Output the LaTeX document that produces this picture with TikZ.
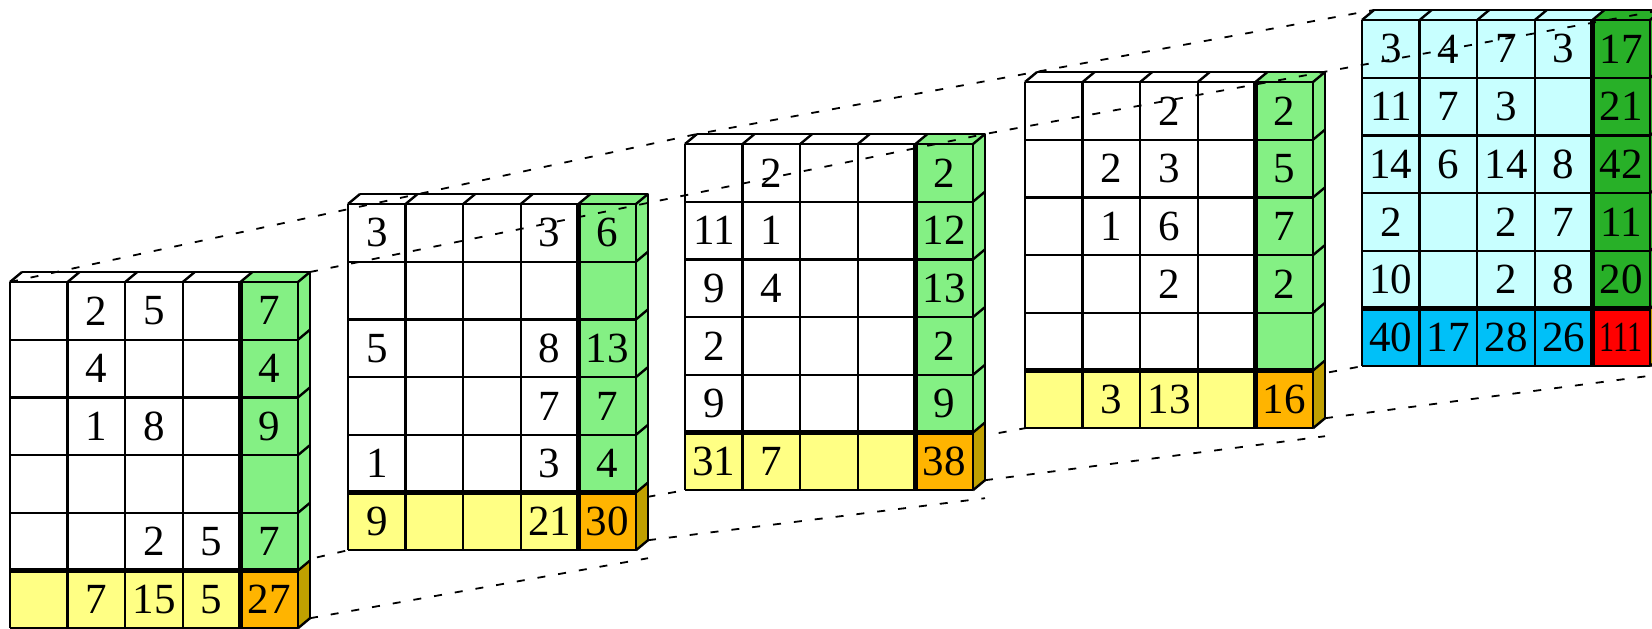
\documentclass[tikz,border=0pt]{standalone}
\usepackage{fontspec}
\setmainfont{Liberation Serif}
\usetikzlibrary{calc, backgrounds}
\definecolor{leafgreen}{HTML}{84F084}
\definecolor{rowyellow}{HTML}{FFFF84}
\definecolor{totorange}{HTML}{FFB400}
\definecolor{sidegold}{HTML}{C0A000}
\definecolor{sumcyan}{HTML}{C8FFFF}
\definecolor{sumblue}{HTML}{00C0F8}
\definecolor{sumgreen}{HTML}{28B028}
\definecolor{sumred}{HTML}{FF0000}

\newcommand{\cw}{57.6}
\newcommand{\ch}{57.7}

% one slab: #1 name, #2 x, #3 y, #4 cells, #5 total column, #6 total row, #7 grand total, #8 rows of values
\newcommand{\slab}[8]{%
  \begin{scope}[shift={(#2,#3)}]
    \coordinate (#1-ftl) at (0,0);
    \coordinate (#1-btl) at (12,-10);
    \coordinate (#1-btr) at ({5*\cw+12},-10);
    \coordinate (#1-fbl) at (0,{6*\ch});
    \coordinate (#1-bbr) at ({5*\cw+12},{6*\ch-10});
    \coordinate (#1-low) at ({5*\cw+12},{6*\ch+8});
    % faces
    \fill[#4] (0,0) -- (12,-10) -- ({4*\cw+12},-10) -- ({4*\cw},0) -- cycle;
    \fill[#5] ({4*\cw},0) -- ({4*\cw+12},-10) -- ({5*\cw+12},-10) -- ({5*\cw},0) -- cycle;
    \fill[#5] ({5*\cw},0) -- ({5*\cw+12},-10) -- ({5*\cw+12},{5*\ch-10}) -- ({5*\cw},{5*\ch}) -- cycle;
    \fill[sidegold] ({5*\cw},{5*\ch}) -- ({5*\cw+12},{5*\ch-10}) -- ({5*\cw+12},{6*\ch-10}) -- ({5*\cw},{6*\ch}) -- cycle;
    \fill[#4] (0,0) rectangle ({4*\cw},{5*\ch});
    \fill[#5] ({4*\cw},0) rectangle ({5*\cw},{5*\ch});
    \fill[#6] (0,{5*\ch}) rectangle ({4*\cw},{6*\ch});
    \fill[#7] ({4*\cw},{5*\ch}) rectangle ({5*\cw},{6*\ch});
    % values
    \foreach \row [count=\ri] in {#8}
      \foreach \v [count=\ci] in \row
        \node[val] (#1-\ri-\ci) at ({(\ci-0.5)*\cw},{(\ri-0.5)*\ch}) {\v};
    % grid
    \foreach \i in {0,1,2,3,5}
      \draw[grid] ({\i*\cw},0) -- ({\i*\cw},{6*\ch});
    \foreach \j in {0,1,2,3,4,6}
      \draw[grid] (0,{\j*\ch}) -- ({5*\cw},{\j*\ch});
    \draw[bold] ({4*\cw},0) -- ({4*\cw},{6*\ch});
    \draw[bold] (0,{5*\ch}) -- ({5*\cw},{5*\ch});
    % top and side faces
    \foreach \i in {0,...,5}
      \draw[grid] ({\i*\cw},0) -- ++(12,-10);
    \foreach \j in {1,...,6}
      \draw[grid] ({5*\cw},{\j*\ch}) -- ++(12,-10);
    \draw[grid] (12,-10) -- ({5*\cw+12},-10) -- ({5*\cw+12},{6*\ch-10});
  \end{scope}}

\begin{document}
\begin{tikzpicture}[x=0.5pt, y=-0.5pt,
  grid/.style={line width=1.2pt, line join=round},
  bold/.style={line width=2.2pt},
  guide/.style={line width=0.9pt, dash pattern=on 4pt off 6.5pt},
  val/.style={font=\fontsize{21.5}{25}\selectfont, inner sep=0pt},
]
\useasboundingbox (0,0) rectangle (1652,628);
\clip (0,0) rectangle (1652,628);

% === Slab 1 ===
\slab{s1}{10}{282}{white}{leafgreen}{rowyellow}{totorange}{
  {{},2,5,{},7}, {{},4,{},{},4}, {{},1,8,{},9},
  {{},{},{},{},{}}, {{},{},2,5,7}, {{},7,15,5,27}}

% === Slab 2 ===
\slab{s2}{348}{204}{white}{leafgreen}{rowyellow}{totorange}{
  {3,{},{},3,6}, {{},{},{},{},{}}, {5,{},{},8,13},
  {{},{},{},7,7}, {1,{},{},3,4}, {9,{},{},21,30}}

% === Slab 3 ===
\slab{s3}{685}{144}{white}{leafgreen}{rowyellow}{totorange}{
  {{},2,{},{},2}, {11,1,{},{},12}, {9,4,{},{},13},
  {2,{},{},{},2}, {9,{},{},{},9}, {31,7,{},{},38}}

% === Slab 4 ===
\slab{s4}{1025}{82}{white}{leafgreen}{rowyellow}{totorange}{
  {{},{},2,{},2}, {{},2,3,{},5}, {{},1,6,{},7},
  {{},{},2,{},2}, {{},{},{},{},{}}, {{},3,13,{},16}}

% === Slab 5: the sums ===
\slab{s5}{1362}{20}{sumcyan}{sumgreen}{sumblue}{sumred}{
  {3,4,7,3,17}, {11,7,3,{},21}, {14,6,14,8,42},
  {2,{},2,7,11}, {10,{},2,8,20}, {40,17,28,26,\scalebox{0.7}[1]{111}}}

% === Dashed guides behind the slabs ===
\begin{pgfonlayer}{background}
  \draw[guide] (s1-fbl) -- (s2-fbl) -- (s3-fbl) -- (s4-fbl) -- (s5-fbl);
  \draw[guide] (s1-bbr) -- (s2-low);
  \draw[guide] (s2-bbr) -- (s3-low);
  \draw[guide] (s3-bbr) -- (s4-low);
  \draw[guide] (s4-bbr) -- (s5-low);
\end{pgfonlayer}

% === Dashed guides across the top ===
\draw[guide] (s1-ftl) -- (s3-btl) -- (s5-btl);
\draw[guide] (s1-btr) -- (s3-btr) -- (s5-btr);

\end{tikzpicture}
\end{document}
